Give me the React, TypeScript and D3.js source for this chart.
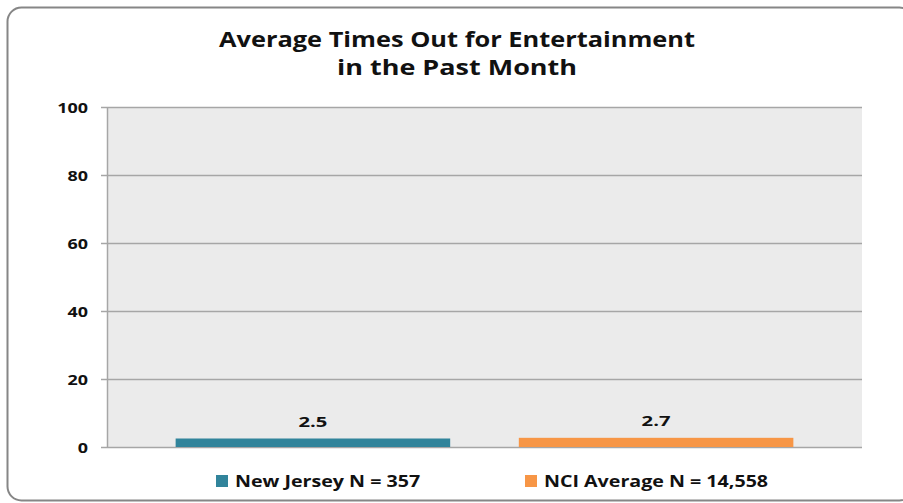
import { useEffect, useRef } from 'react';
import * as d3 from 'd3';

const titleLines = ['Average Times Out for Entertainment', 'in the Past Month'];
const seriesNames = ['New Jersey N = 357', 'NCI Average N = 14,558'];
const seriesValues = [2.5, 2.7];
const seriesColors = ['#31849b', '#f79646'];
const yTicks = [0, 20, 40, 60, 80, 100];

const FONT = '"Open Sans", "DejaVu Sans", sans-serif';

// the original font is a horizontally wide bold face; widen our glyphs to match
function widen(sel: d3.Selection<SVGTextElement, any, any, any>, factor: number) {
  sel.each(function () {
    const len = this.getComputedTextLength();
    d3.select(this)
      .attr('textLength', len * factor)
      .attr('lengthAdjust', 'spacingAndGlyphs');
  });
}

export default function App() {
  const svgRef = useRef<SVGSVGElement>(null);

  useEffect(() => {
    if (!svgRef.current) return;
    const width = 903;
    const height = 503;
    const plot = { left: 107, right: 862, top: 107, bottom: 447 };

    d3.select(svgRef.current).selectAll('*').remove();
    const svg = d3.select(svgRef.current).attr('width', width).attr('height', height);

    // outer frame
    svg
      .append('rect')
      .attr('x', 7.5)
      .attr('y', 7.5)
      .attr('width', 906)
      .attr('height', 493)
      .attr('rx', 14)
      .attr('fill', 'white')
      .attr('stroke', '#868686')
      .attr('stroke-width', 2);

    // title
    const title = svg
      .append('g')
      .selectAll('text')
      .data(titleLines)
      .join('text')
      .attr('x', 457)
      .attr('y', (_, i) => 47 + i * 28)
      .attr('text-anchor', 'middle')
      .attr('font-family', FONT)
      .attr('font-size', '22px')
      .attr('font-weight', 700)
      .attr('fill', '#111')
      .text((d) => d);
    const titleWidths = [476, 240];
    title.attr('textLength', (_, i) => titleWidths[i]).attr('lengthAdjust', 'spacingAndGlyphs');

    const y = d3.scaleLinear().domain([0, 100]).range([plot.bottom, plot.top]);
    const x = d3
      .scaleBand()
      .domain(seriesNames)
      .range([plot.left, plot.right])
      .paddingInner(0.2)
      .paddingOuter(0.2);

    // plot background
    svg
      .append('rect')
      .attr('x', plot.left)
      .attr('y', plot.top)
      .attr('width', plot.right - plot.left)
      .attr('height', plot.bottom - plot.top)
      .attr('fill', '#ebebeb');

    // gridlines
    svg
      .append('g')
      .selectAll('line')
      .data(yTicks)
      .join('line')
      .attr('x1', plot.left - 6)
      .attr('x2', plot.right)
      .attr('y1', (d) => y(d) + 0.5)
      .attr('y2', (d) => y(d) + 0.5)
      .attr('stroke', '#a6a6a6')
      .attr('stroke-width', 1.5);

    // y axis line
    svg
      .append('line')
      .attr('x1', plot.left + 0.5)
      .attr('x2', plot.left + 0.5)
      .attr('y1', plot.top)
      .attr('y2', plot.bottom)
      .attr('stroke', '#a6a6a6')
      .attr('stroke-width', 1.5);

    // y tick labels
    const tickLabels = svg
      .append('g')
      .selectAll('text')
      .data(yTicks)
      .join('text')
      .attr('x', 88)
      .attr('y', (d) => y(d) + 5.5)
      .attr('text-anchor', 'end')
      .attr('font-family', FONT)
      .attr('font-size', '14px')
      .attr('font-weight', 700)
      .attr('fill', '#111')
      .text((d) => d);
    widen(tickLabels, 1.28);

    // bars
    svg
      .append('g')
      .selectAll('rect')
      .data(seriesValues)
      .join('rect')
      .attr('x', (_, i) => x(seriesNames[i])!)
      .attr('y', (d) => y(d))
      .attr('width', x.bandwidth())
      .attr('height', (d) => plot.bottom - y(d))
      .attr('fill', (_, i) => seriesColors[i]);

    // value labels
    const valueLabels = svg
      .append('g')
      .selectAll('text')
      .data(seriesValues)
      .join('text')
      .attr('x', (_, i) => x(seriesNames[i])! + x.bandwidth() / 2)
      .attr('y', (d) => y(d) - 12)
      .attr('text-anchor', 'middle')
      .attr('font-family', FONT)
      .attr('font-size', '15px')
      .attr('font-weight', 700)
      .attr('fill', '#111')
      .text((d) => d.toFixed(1));
    widen(valueLabels, 1.35);

    // legend
    const legendX = [216, 525];
    const legend = svg
      .append('g')
      .selectAll('g')
      .data(seriesNames)
      .join('g')
      .attr('transform', (_, i) => `translate(${legendX[i]}, 487)`);
    legend
      .append('rect')
      .attr('x', 0)
      .attr('y', -12)
      .attr('width', 12)
      .attr('height', 12)
      .attr('fill', (_, i) => seriesColors[i]);
    const legendText = legend
      .append('text')
      .attr('x', 19)
      .attr('y', 0)
      .attr('font-family', FONT)
      .attr('font-size', '16.5px')
      .attr('font-weight', 700)
      .attr('fill', '#111')
      .text((d) => d);
    widen(legendText as any, 1.19);
  }, []);

  return (
    <div style={{ position: 'absolute', left: 0, top: 0 }}>
      <svg ref={svgRef} style={{ display: 'block' }} />
    </div>
  );
}
